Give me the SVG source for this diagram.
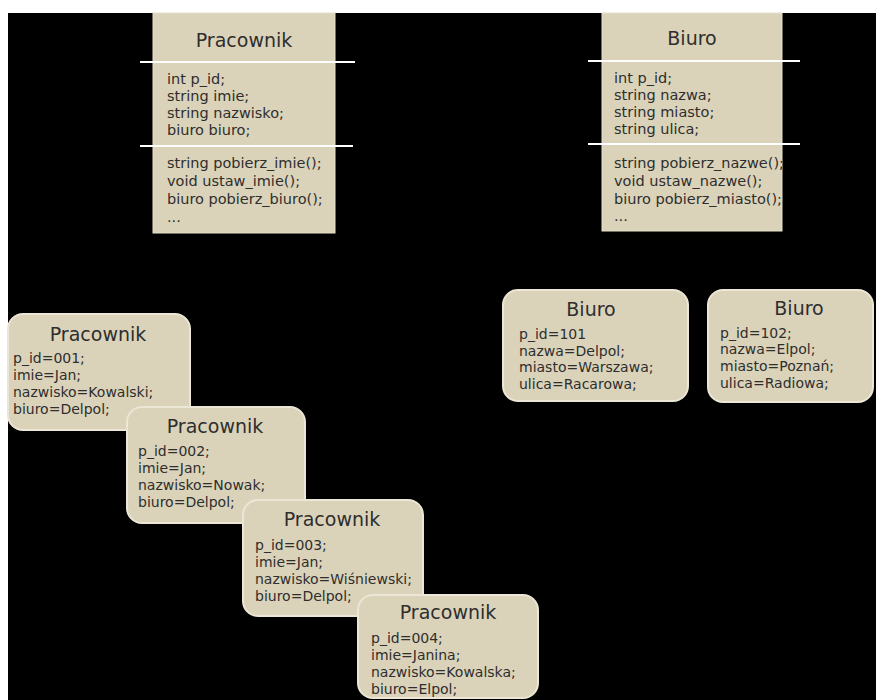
<svg xmlns="http://www.w3.org/2000/svg" width="876" height="700" viewBox="0 0 876 700">
<style>
.bg{fill:#000}
.cls{fill:#dbd3b9;stroke:#e6e0cc;stroke-width:1}
.obj{fill:#dbd3b9;stroke:#ebe6d5;stroke-width:2}
.sep{stroke:#ffffff;stroke-width:2}
.t{font-family:"DejaVu Sans",sans-serif;fill:#2e2e2e}
.ct{font-size:19px;text-anchor:middle}
.cb{font-size:14.5px}
.ot{font-size:19px;text-anchor:middle}
.ob{font-size:14px}
.con{stroke:#000;stroke-width:1.5;fill:none}
</style>
<defs>
<marker id="ah" viewBox="0 0 10 10" refX="9" refY="5" markerWidth="5" markerHeight="5" orient="auto"><path d="M0,0 L10,5 L0,10 z" fill="#000"/></marker>
<clipPath id="cpB"><rect x="602" y="13" width="180" height="218"/></clipPath>
</defs>
<rect x="0" y="0" width="876" height="700" fill="#fff"/>
<rect class="bg" x="8" y="13" width="868" height="687"/>

<g id="connectors">
<line class="con" x1="213" y1="407" x2="245" y2="236" marker-end="url(#ah)"/>
<line class="con" x1="330" y1="500" x2="246" y2="236" marker-end="url(#ah)"/>
<line class="con" x1="447" y1="595" x2="247" y2="236" marker-end="url(#ah)"/>
<line class="con" x1="587" y1="401" x2="693" y2="234" marker-end="url(#ah)"/>
<line class="con" x1="803" y1="402" x2="694" y2="234" marker-end="url(#ah)"/>
<line class="con" x1="335" y1="117" x2="602" y2="117"/>
</g>

<g id="class-pracownik">
<rect class="cls" x="153" y="13" width="182" height="220"/>
<text class="t ct" x="244" y="47">Pracownik</text>
<line class="sep" x1="140" y1="62" x2="355" y2="62"/>
<text class="t cb" x="167" y="84">int p_id;</text>
<text class="t cb" x="167" y="101">string imie;</text>
<text class="t cb" x="167" y="118">string nazwisko;</text>
<text class="t cb" x="167" y="135">biuro biuro;</text>
<line class="sep" x1="140" y1="146" x2="353" y2="146"/>
<text class="t cb" x="167" y="168">string pobierz_imie();</text>
<text class="t cb" x="167" y="186">void ustaw_imie();</text>
<text class="t cb" x="167" y="204">biuro pobierz_biuro();</text>
<text class="t cb" x="167" y="222">...</text>
</g>

<g id="class-biuro">
<rect class="cls" x="602" y="13" width="180" height="218"/>
<text class="t ct" x="692" y="45">Biuro</text>
<line class="sep" x1="588" y1="61" x2="800" y2="61"/>
<g clip-path="url(#cpB)">
<text class="t cb" x="614" y="83">int p_id;</text>
<text class="t cb" x="614" y="100">string nazwa;</text>
<text class="t cb" x="614" y="117">string miasto;</text>
<text class="t cb" x="614" y="134">string ulica;</text>
<text class="t cb" x="614" y="168">string pobierz_nazwe();</text>
<text class="t cb" x="614" y="186">void ustaw_nazwe();</text>
<text class="t cb" x="614" y="204">biuro pobierz_miasto();</text>
<text class="t cb" x="614" y="221">...</text>
</g>
<line class="sep" x1="588" y1="144" x2="800" y2="144"/>
</g>

<g id="obj-pracownik-1">
<rect class="obj" x="8" y="314" width="182" height="116" rx="15"/>
<text class="t ot" x="98" y="341">Pracownik</text>
<text class="t ob" x="13" y="363">p_id=001;</text>
<text class="t ob" x="13" y="380">imie=Jan;</text>
<text class="t ob" x="13" y="397">nazwisko=Kowalski;</text>
<text class="t ob" x="13" y="414">biuro=Delpol;</text>
</g>

<g id="obj-pracownik-2">
<rect class="obj" x="127" y="407" width="178" height="116" rx="15"/>
<text class="t ot" x="215" y="433">Pracownik</text>
<text class="t ob" x="138" y="456">p_id=002;</text>
<text class="t ob" x="138" y="473">imie=Jan;</text>
<text class="t ob" x="138" y="490">nazwisko=Nowak;</text>
<text class="t ob" x="138" y="507">biuro=Delpol;</text>
</g>

<g id="obj-pracownik-3">
<rect class="obj" x="243" y="500" width="180" height="116" rx="15"/>
<text class="t ot" x="332" y="526">Pracownik</text>
<text class="t ob" x="255" y="550">p_id=003;</text>
<text class="t ob" x="255" y="567">imie=Jan;</text>
<text class="t ob" x="255" y="584">nazwisko=Wiśniewski;</text>
<text class="t ob" x="255" y="601">biuro=Delpol;</text>
</g>

<g id="obj-pracownik-4">
<rect class="obj" x="358" y="595" width="180" height="103" rx="15"/>
<text class="t ot" x="448" y="619">Pracownik</text>
<text class="t ob" x="371" y="643">p_id=004;</text>
<text class="t ob" x="371" y="660">imie=Janina;</text>
<text class="t ob" x="371" y="677">nazwisko=Kowalska;</text>
<text class="t ob" x="371" y="694">biuro=Elpol;</text>
</g>

<g id="obj-biuro-1">
<rect class="obj" x="503" y="290" width="185" height="111" rx="15"/>
<text class="t ot" x="591" y="316">Biuro</text>
<text class="t ob" x="519" y="339">p_id=101</text>
<text class="t ob" x="519" y="356">nazwa=Delpol;</text>
<text class="t ob" x="519" y="372">miasto=Warszawa;</text>
<text class="t ob" x="519" y="389">ulica=Racarowa;</text>
</g>

<g id="obj-biuro-2">
<rect class="obj" x="708" y="290" width="165" height="112" rx="15"/>
<text class="t ot" x="799" y="315">Biuro</text>
<text class="t ob" x="720" y="338">p_id=102;</text>
<text class="t ob" x="720" y="354">nazwa=Elpol;</text>
<text class="t ob" x="720" y="371">miasto=Poznań;</text>
<text class="t ob" x="720" y="388">ulica=Radiowa;</text>
</g>
</svg>
